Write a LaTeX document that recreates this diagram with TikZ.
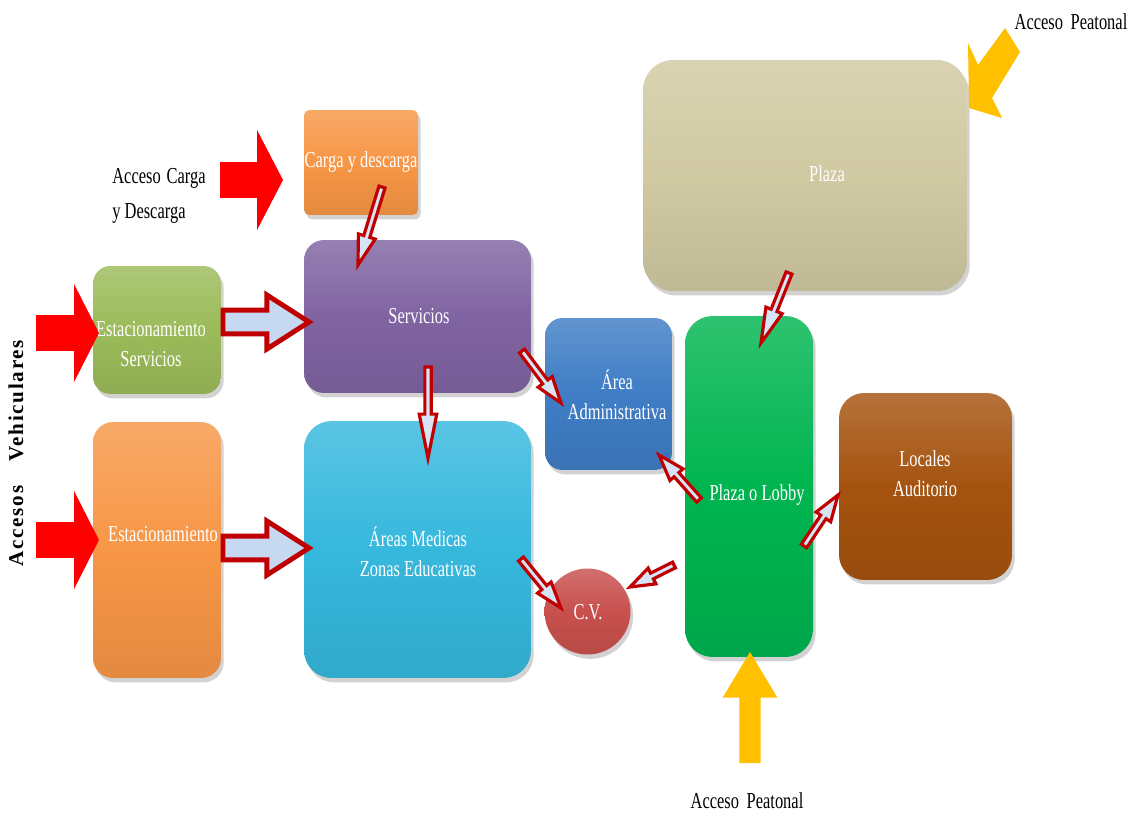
\documentclass[tikz,border=0pt]{standalone}
\usepackage{fontspec}
\setmainfont{Liberation Serif}
\newfontfamily\condfont[FakeStretch=0.72]{Liberation Serif}
\newfontfamily\widefont[LetterSpace=8]{Liberation Serif}
\usetikzlibrary{calc,shadows}
\definecolor{orangeC}{HTML}{F79646}
\definecolor{purpleC}{HTML}{8064A2}
\definecolor{greenC}{HTML}{9BBB59}
\definecolor{cyanC}{HTML}{36B8DD}
\definecolor{blueC}{HTML}{3F7DC5}
\definecolor{redC}{HTML}{C8504D}
\definecolor{lobbyC}{HTML}{00B550}
\definecolor{plazaC}{HTML}{D0C9A2}
\definecolor{brownC}{HTML}{A5530F}
\definecolor{yellowA}{HTML}{FFC000}
\definecolor{redA}{HTML}{FF0000}
\definecolor{darkredA}{HTML}{C00000}
\definecolor{lightblueA}{HTML}{C6D9F1}
\newcommand\blockarrow[6]{%
  \coordinate (banck) at ($(#3)!#6!(#2)$);
  \path[#1] (#3) -- ($(banck)!#5!90:(#3)$) -- ($(banck)!#4!90:(#3)$)
    -- ($(#2)!#4!90:(#3)$) -- ($(#2)!#4!-90:(#3)$)
    -- ($(banck)!#4!-90:(#3)$) -- ($(banck)!#5!-90:(#3)$) -- cycle;}
\tikzset{
  box/.style={rectangle, draw=none, inner sep=0pt,
    top color=#1!82!white, bottom color=#1!92!black, middle color=#1,
    drop shadow={opacity=0.35, shadow xshift=1.5pt, shadow yshift=-2.5pt}},
  wtxt/.style={text=white, font=\condfont\fontsize{13}{17}\selectfont, align=center, inner sep=0pt},
  btxt/.style={text=black, font=\condfont\fontsize{13}{20}\selectfont, inner sep=0pt},
  redarr/.style={fill=redA},
  yelarr/.style={fill=yellowA},
  hollowarr/.style={draw=darkredA, fill=lightblueA, line width=2.8pt, line join=miter},
  thinarr/.style={draw=darkredA, fill=lightblueA!70!white, line width=1.8pt, line join=miter},
}
\begin{document}
\begin{tikzpicture}[x=0.02cm, y=-0.02cm]
\useasboundingbox (0,0) rectangle (1138,818);
\fill[white] (0,0) rectangle (1138,818);

% boxes
\node[box=orangeC, rounded corners=3pt, minimum width=2.28cm, minimum height=2.1cm] (carga) at (361,162.5) {};
\node[box=purpleC, rounded corners=0.4cm, minimum width=4.54cm, minimum height=3.06cm] (serv) at (417.5,316.5) {};
\node[box=greenC, rounded corners=0.35cm, minimum width=2.56cm, minimum height=2.56cm] (estserv) at (157,330) {};
\node[box=orangeC, rounded corners=0.4cm, minimum width=2.56cm, minimum height=5.12cm] (est) at (157,550) {};
\node[box=cyanC, rounded corners=0.55cm, minimum width=4.54cm, minimum height=5.14cm] (areas) at (417.5,549.5) {};
\node[box=blueC, rounded corners=0.35cm, minimum width=2.54cm, minimum height=3.04cm] (adm) at (608.5,394) {};
\node[box=redC, circle, minimum size=1.72cm] (cv) at (587.5,611.5) {};
\node[box=lobbyC, rounded corners=0.55cm, minimum width=2.56cm, minimum height=6.82cm] (lobby) at (749,486.5) {};
\node[box=plazaC, rounded corners=0.6cm, minimum width=6.48cm, minimum height=4.62cm] (plaza) at (805,175.5) {};
\node[box=brownC, rounded corners=0.5cm, minimum width=3.46cm, minimum height=3.74cm] (locales) at (925.5,486.5) {};

% box texts
\node[wtxt] (cargat) at (361,162) {Carga y descarga};
\node[wtxt] (servt) at (419,316) {Servicios};
\node[wtxt] (estservt) at (151,344) {Estacionamiento\\Servicios};
\node[wtxt] (estt) at (163,534) {Estacionamiento};
\node[wtxt] (areast) at (418,552) {Áreas Medicas\\Zonas Educativas};
\node[wtxt] (admt) at (617,395) {Área\\Administrativa};
\node[wtxt] (cvt) at (588,612) {C.V.};
\node[wtxt] (lobbyt) at (757,495) {Plaza o Lobby};
\node[wtxt] (plazat) at (827,174) {Plaza};
\node[wtxt] (localest) at (925,474) {Locales\\Auditorio};

% outside labels
\node[btxt] (peat1) at (1071,22) {Acceso\hspace{2pt} Peatonal};
\node[btxt] (peat2) at (747,801) {Acceso\hspace{2pt} Peatonal};
\node[btxt, anchor=west, align=left] (cargaacc) at (112,195.5) {Acceso\hspace{1pt} Carga\\y Descarga};
\node[text=black, font=\widefont\bfseries\fontsize{12}{14}\selectfont, rotate=90, inner sep=0pt] (vehic) at (16,453) {Accesos\hspace{14pt}Vehiculares};

% big red access arrows
\coordinate (ra1t) at (36,333); \coordinate (ra1h) at (99,333);
\blockarrow{redarr}{ra1t}{ra1h}{10.2pt}{27.9pt}{14.2pt}
\coordinate (ra2t) at (36,540); \coordinate (ra2h) at (99,540);
\blockarrow{redarr}{ra2t}{ra2h}{10.2pt}{27.9pt}{14.2pt}
\coordinate (ra3t) at (220,180); \coordinate (ra3h) at (283,180);
\blockarrow{redarr}{ra3t}{ra3h}{10.2pt}{28.5pt}{14.8pt}

% yellow pedestrian arrows
\coordinate (ya1t) at (750,763); \coordinate (ya1h) at (750,652);
\blockarrow{yelarr}{ya1t}{ya1h}{6pt}{15.6pt}{26pt}
\coordinate (ya2a) at (968,43); \coordinate (ya2tip) at (969,108); \coordinate (ya2b) at (1002,118);
\fill[yellowA] (ya2a) -- (ya2tip) -- (ya2b) -- (992,98) -- (1020,52) -- (1005,28) -- (978,65) -- cycle;

% hollow arrows
\coordinate (ha1t) at (223,322); \coordinate (ha1h) at (309,322);
\blockarrow{hollowarr}{ha1t}{ha1h}{6.8pt}{15.4pt}{24pt}
\coordinate (ha2t) at (223,548); \coordinate (ha2h) at (309,548);
\blockarrow{hollowarr}{ha2t}{ha2h}{6.8pt}{15.4pt}{24pt}

% thin arrows
\coordinate (t1a) at (382,187); \coordinate (t1b) at (358,265);
\blockarrow{thinarr}{t1a}{t1b}{1.8pt}{5pt}{17pt}
\coordinate (t2a) at (428,367); \coordinate (t2b) at (428,458);
\blockarrow{thinarr}{t2a}{t2b}{1.8pt}{5pt}{25pt}
\coordinate (t3a) at (522,351); \coordinate (t3b) at (561,403);
\blockarrow{thinarr}{t3a}{t3b}{1.8pt}{5pt}{15pt}
\coordinate (t4a) at (521,559); \coordinate (t4b) at (561,608);
\blockarrow{thinarr}{t4a}{t4b}{1.8pt}{5pt}{15pt}
\coordinate (t5a) at (674,565); \coordinate (t5b) at (630,587);
\blockarrow{thinarr}{t5a}{t5b}{1.8pt}{5pt}{14pt}
\coordinate (t6a) at (699,500); \coordinate (t6b) at (659,455);
\blockarrow{thinarr}{t6a}{t6b}{1.8pt}{5pt}{15pt}
\coordinate (t7a) at (789,273); \coordinate (t7b) at (761,343);
\blockarrow{thinarr}{t7a}{t7b}{1.8pt}{5pt}{20pt}
\coordinate (t8a) at (804,546); \coordinate (t8b) at (838,495);
\blockarrow{thinarr}{t8a}{t8b}{1.8pt}{5pt}{15pt}
\end{tikzpicture}
\end{document}
